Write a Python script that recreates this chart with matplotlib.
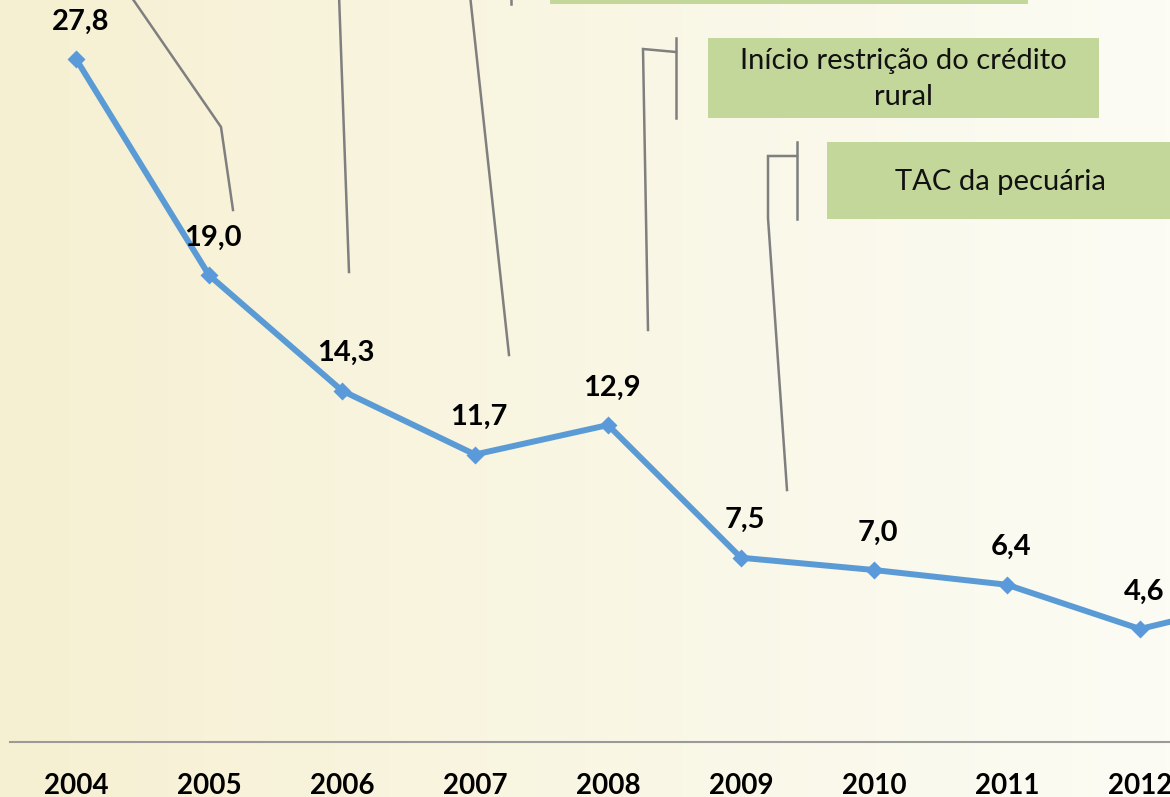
import matplotlib
matplotlib.use("Agg")
import matplotlib.pyplot as plt
import numpy as np
from matplotlib.patches import Rectangle

# desmatamento anual (mil km2)
anos = ["2004", "2005", "2006", "2007", "2008", "2009", "2010", "2011", "2012", "2013"]
valores = [27.8, 19.0, 14.3, 11.7, 12.9, 7.5, 7.0, 6.4, 4.6, 5.9]
rotulos = ["27,8", "19,0", "14,3", "11,7", "12,9", "7,5", "7,0", "6,4", "4,6", "5,9"]

# caixas de texto (em pixels da figura)
caixas = [
    ("", 550, -40, 478, 44),
    ("Início restrição do crédito\nrural", 708, 38, 391, 80),
    ("TAC da pecuária", 827, 142, 346, 77),
]
# linhas de chamada (em pixels da figura)
chamadas = [
    [(130, -5), (221, 127), (233, 210)],
    [(339, -5), (349, 272)],
    [(470, -5), (509, 355)],
    [(511, -5), (511, 4)],
    [(676, 38), (676, 118)],
    [(676, 52), (643, 49), (648, 330)],
    [(797, 142), (797, 219)],
    [(797, 156), (768, 156), (768, 218), (787, 490)],
]

plt.rcParams['font.family'] = ['Lato', 'DejaVu Sans']

W, H = 1170, 797
fig = plt.figure(figsize=(W / 100, H / 100), dpi=100)

# fundo em degrade
bg = fig.add_axes([0, 0, 1, 1], zorder=0)
esq = np.array([246, 240, 210]) / 255.0
dir_ = np.array([252, 252, 245]) / 255.0
t = np.linspace(0, 1, 300)[None, :, None]
grad = esq * (1 - t) + dir_ * t
grad = np.repeat(grad, 2, axis=0)
bg.imshow(grad, aspect='auto', extent=[0, 1, 0, 1])
bg.axis('off')

# camada das chamadas
ov = fig.add_axes([0, 0, 1, 1], zorder=1)
ov.set_xlim(0, W)
ov.set_ylim(H, 0)
ov.axis('off')
ov.patch.set_alpha(0)
for txt, x, y, w, h in caixas:
    ov.add_patch(Rectangle((x, y), w, h, facecolor='#C4D79B', edgecolor='none'))
    if txt:
        ov.text(x + w / 2, y + h / 2 + 1, txt, ha='center', va='center',
                fontsize=21, color='#111111', linespacing=1.45)
for pts in chamadas:
    xs, ys = zip(*pts)
    ov.plot(xs, ys, color='#7f7f7f', lw=1.8, solid_joinstyle='miter')

# grafico principal
px_ano = 133.0
px_val = 24.57
ax = fig.add_axes([0, 55 / H, 1, 742 / H], zorder=2)
ax.patch.set_alpha(0)
x = np.arange(len(anos))
ax.plot(x, valores, color='#5B9BD5', lw=4.3, marker='D', markersize=9,
        markerfacecolor='#5A99DA', markeredgecolor='none')
for xi, v, r in zip(x, valores, rotulos):
    ax.annotate(r, (xi, v), xytext=(3, 27), textcoords='offset points',
                ha='center', va='center', fontsize=21, fontweight='bold')
ax.axhline(0, xmin=10 / W, xmax=1, color='#9a9a9a', lw=1.5, clip_on=False)
for s in ax.spines.values():
    s.set_visible(False)
ax.set_yticks([])
ax.set_xticks(x)
ax.set_xticklabels(anos, fontsize=20, fontweight='bold')
ax.tick_params(axis='x', length=0, pad=22)
ax.set_xlim(-76 / px_ano, (W - 76) / px_ano)
ax.set_ylim(0, 742 / px_val)

fig.savefig('out.png', dpi=100)
